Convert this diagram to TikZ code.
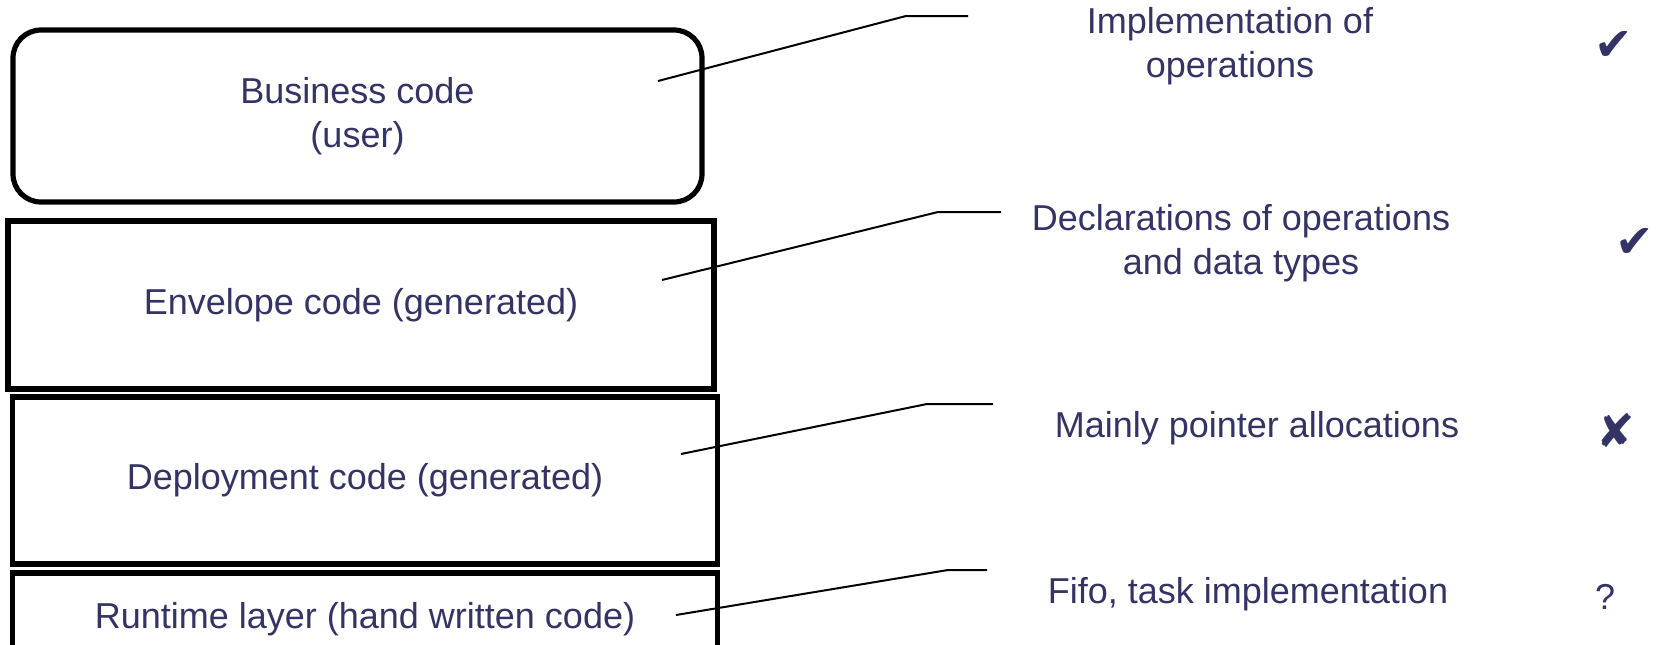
\documentclass[tikz,border=0pt]{standalone}
\usepackage{fontspec}
\setmainfont{Liberation Sans}
\newfontfamily\symfont{DejaVu Sans}
\usepackage{tikz}
\usetikzlibrary{positioning}
\definecolor{navy}{RGB}{51,51,102}
\tikzset{
	x=0.5pt, y=-0.5pt, % one unit is one pixel of the reference
	layer/.style={draw, line width=2.6pt, inner sep=0pt, text=navy,
		font=\fontsize{18}{22}\selectfont, align=center},
	note/.style={text=navy, font=\fontsize{18}{22}\selectfont, align=center},
	callout/.style={line width=1pt},
	verdict/.style={text=navy, font=\symfont\fontsize{23}{26}\selectfont},
}

\begin{document}
\begin{tikzpicture}
	\useasboundingbox (0,0) rectangle (1656,644);
	\clip (0,0) rectangle (1656,644);

	% the four layers
	\node[layer, rounded corners=14pt, minimum width=344.5pt, minimum height=86pt] (business) at (357.5,116) {Business code\\(user)};
	\node[layer, minimum width=353pt, minimum height=84pt] (envelope) at (361,305) {Envelope code (generated)};
	\node[layer, minimum width=352.5pt, minimum height=83.5pt] (deploy) at (365,480.5) {Deployment code (generated)};
	\node[layer, minimum width=352.5pt, minimum height=46pt] (runtime) at (365,619) {Runtime layer (hand written code)};

	% what each layer holds
	\node[note] (impl) at (1230,46) {Implementation of\\operations};
	\node[note] (decl) at (1241,243) {Declarations of operations\\and data types};
	\node[note] (alloc) at (1257,428) {Mainly pointer allocations};
	\node[note] (fifo) at (1248,594) {Fifo, task implementation};

	\node[verdict] (v1) at (1614,46) {✔};
	\node[verdict] (v2) at (1635,243) {✔};
	\node[verdict] (v3) at (1616,430) {✘};
	\node[note] (v4) at (1605,597) {?};

	% callouts
	\coordinate (s1) at (658,81);  \coordinate (k1) at (906,16);  \coordinate (e1) at (968,16);
	\coordinate (s2) at (662,280); \coordinate (k2) at (938,212); \coordinate (e2) at (1001,212);
	\coordinate (s3) at (681,454); \coordinate (k3) at (927,404); \coordinate (e3) at (993,404);
	\coordinate (s4) at (676,615); \coordinate (k4) at (948,570); \coordinate (e4) at (987,570);
	\foreach \i in {1,...,4}
		\draw[callout] (s\i) -- (k\i) -- (e\i);
\end{tikzpicture}
\end{document}
